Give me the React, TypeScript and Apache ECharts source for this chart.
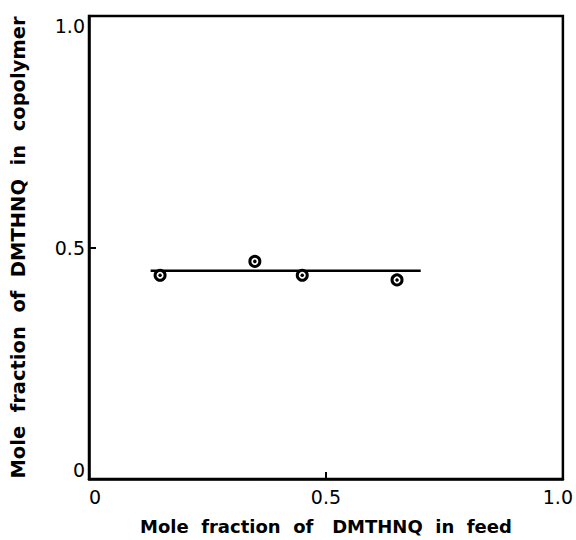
import React, { useEffect, useRef } from "react";
import * as echarts from "echarts";

// Copolymer composition vs. feed composition
const feedFraction = [0.15, 0.35, 0.45, 0.65];
const copolymerFraction = [0.44, 0.47, 0.44, 0.43];

// Fitted horizontal line
const fitX = [0.13, 0.7];
const fitY = [0.45, 0.45];

const axisTicks = [0, 0.5, 1.0];
const xTitle = "Mole  fraction  of   DMTHNQ  in  feed";
const yTitle = "Mole  fraction  of  DMTHNQ  in  copolymer";

const tickLabel = (v: number) => (v === 0 ? "0" : v.toFixed(1));

const labelFont = { color: "#000", fontFamily: "DejaVu Sans", fontSize: 19 };

export default function App() {
  const ref = useRef<HTMLDivElement>(null);

  useEffect(() => {
    if (!ref.current) return;
    const chart = echarts.init(ref.current, null, { renderer: "svg" });

    const points = feedFraction.map((x, i) => [x, copolymerFraction[i]]);
    const fit = fitX.map((x, i) => [x, fitY[i]]);

    chart.setOption({
      animation: false,
      backgroundColor: "#fff",
      grid: {
        left: 88,
        right: 12,
        top: 16,
        bottom: 58,
        show: true,
        borderColor: "#000",
        borderWidth: 2.5,
      },
      xAxis: {
        type: "value",
        min: 0,
        max: 1,
        interval: 0.5,
        name: xTitle,
        nameLocation: "middle",
        nameGap: 38,
        nameTextStyle: {
          color: "#000",
          fontFamily: "DejaVu Sans",
          fontWeight: "bold",
          fontSize: 18,
        },
        axisLine: { show: true, lineStyle: { color: "#000", width: 2.5 } },
        axisTick: { show: true, inside: true, length: 7, lineStyle: { color: "#000", width: 2 } },
        splitLine: { show: false },
        axisLabel: {
          ...labelFont,
          margin: 8,
          alignMinLabel: "left",
          formatter: (v: number) => {
            if (!axisTicks.includes(v)) return "";
            return v === 1 ? "{end|" + tickLabel(v) + "}" : tickLabel(v);
          },
          rich: { end: { ...labelFont, padding: [0, 10, 0, 0] } },
        },
      },
      yAxis: {
        type: "value",
        min: 0,
        max: 1,
        interval: 0.5,
        name: yTitle,
        nameLocation: "middle",
        nameGap: 61,
        nameTextStyle: {
          color: "#000",
          fontFamily: "DejaVu Sans",
          fontWeight: "bold",
          fontSize: 19.5,
        },
        axisLine: { show: true, lineStyle: { color: "#000", width: 2.5 } },
        axisTick: { show: true, inside: true, length: 7, lineStyle: { color: "#000", width: 2 } },
        splitLine: { show: false },
        axisLabel: {
          ...labelFont,
          margin: 4,
          verticalAlignMinLabel: "bottom",
          verticalAlignMaxLabel: "top",
          formatter: (v: number) => (axisTicks.includes(v) ? tickLabel(v) : ""),
        },
      },
      series: [
        {
          type: "line",
          data: fit,
          symbol: "none",
          lineStyle: { color: "#000", width: 2.5 },
          z: 1,
        },
        {
          type: "scatter",
          data: points,
          symbol: "circle",
          symbolSize: 10,
          itemStyle: { color: "#fff", borderColor: "#000", borderWidth: 3, opacity: 1 },
          z: 2,
        },
        {
          type: "scatter",
          data: points,
          symbol: "circle",
          symbolSize: 3.5,
          itemStyle: { color: "#000", opacity: 1 },
          z: 3,
        },
      ],
    });

    return () => chart.dispose();
  }, []);

  return (
    <div
      style={{
        position: "absolute",
        left: 0,
        top: 0,
        width: 576,
        height: 540,
        overflow: "hidden",
        background: "#fff",
      }}
    >
      <div ref={ref} style={{ width: 576, height: 540 }} />
    </div>
  );
}
